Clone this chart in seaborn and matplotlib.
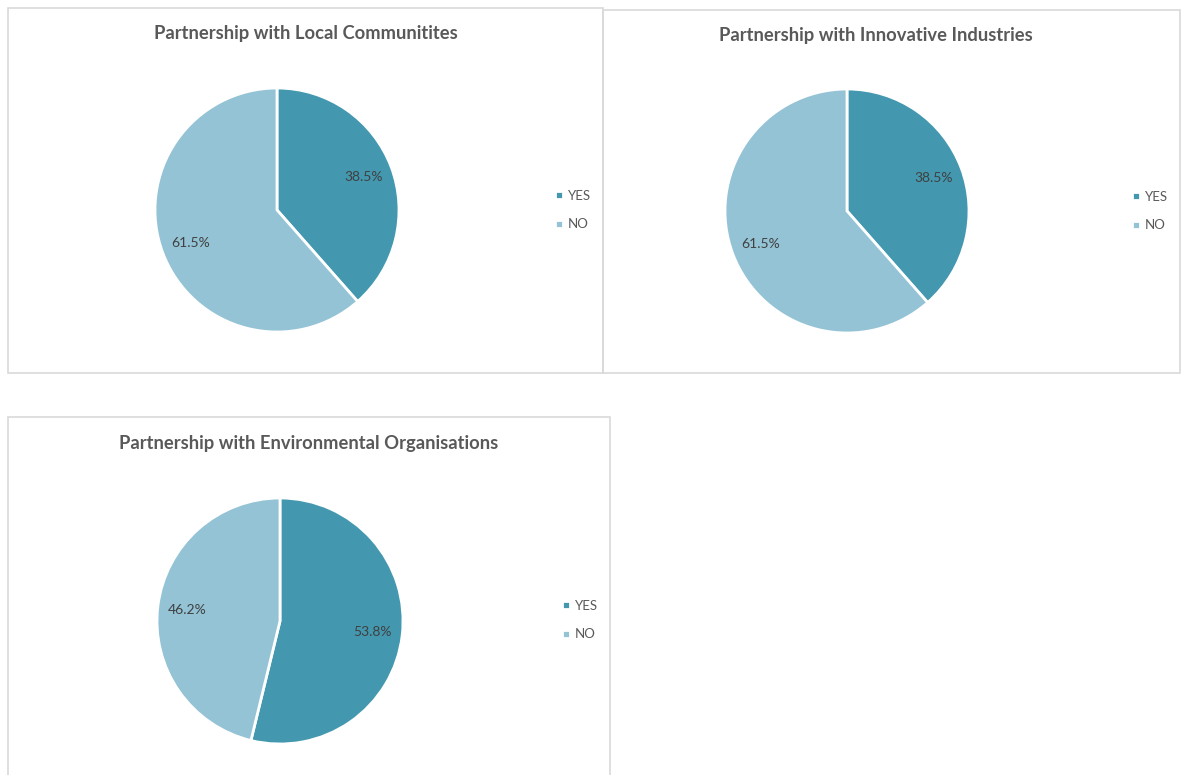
import matplotlib
matplotlib.use("Agg")
import matplotlib.pyplot as plt
from matplotlib.patches import Rectangle
import seaborn as sns

# ---- data ----
titles = ["Partnership with Local Communitites",
          "Partnership with Innovative Industries",
          "Partnership with Environmental Organisations"]
categories = ["YES", "NO"]
yes_pct = [38.5, 38.5, 53.8]
no_pct = [61.5, 61.5, 46.2]

sns.set_theme(style="white")
plt.rcParams['font.family'] = ['Lato', 'DejaVu Sans']

colors = sns.color_palette(["#4398B0", "#93C3D5"])

W, H = 1182, 775
fig = plt.figure(figsize=(W / 100, H / 100), dpi=100)
fig.patch.set_facecolor("white")

def fx(x):
    return x / W

def fy(y):
    return 1 - y / H

# layout in pixels: box(x0,y0,x1,y1), title center, pie center, radius, legend pos
panels = [
    dict(box=(8, 8, 603, 373), title=(306, 33), center=(277, 210), r=122, leg=(550, 210)),
    dict(box=(603, 10, 1180, 373), title=(876, 36), center=(847, 211), r=122, leg=(1127, 211)),
    dict(box=(8, 417, 610, 790), title=(309, 443), center=(280, 621), r=123, leg=(557, 620)),
]

for i, p in enumerate(panels):
    x0, y0, x1, y1 = p["box"]
    fig.patches.append(Rectangle((fx(x0), fy(y1)), fx(x1) - fx(x0), fy(y0) - fy(y1),
                                 transform=fig.transFigure, fill=False,
                                 edgecolor="#D9D9D9", linewidth=1.2, zorder=0))
    fig.text(fx(p["title"][0]), fy(p["title"][1]), titles[i], ha="center", va="center",
             fontsize=13.2, fontweight="bold", color="#595959")
    cx, cy = p["center"]
    r = p["r"]
    ax = fig.add_axes([fx(cx - r), fy(cy + r), 2 * r / W, 2 * r / H])
    vals = [yes_pct[i], no_pct[i]]
    wedges, _, autotexts = ax.pie(
        vals, colors=colors, startangle=90, counterclock=False,
        autopct="%1.1f%%", pctdistance=0.76,
        wedgeprops=dict(edgecolor="white", linewidth=2, clip_on=False),
        textprops=dict(fontsize=10, color="#404040"))
    ax.set_xlim(-1, 1)
    ax.set_ylim(-1, 1)
    ax.set_aspect("equal")
    ax.axis("off")
    lx, ly = p["leg"]
    ax.legend(wedges, categories, loc="center left",
              bbox_to_anchor=(fx(lx), fy(ly)), bbox_transform=fig.transFigure,
              frameon=False, fontsize=9.5, handlelength=0.55, handleheight=0.55,
              handletextpad=0.4, labelspacing=1.25, labelcolor="#595959",
              borderaxespad=0)

fig.savefig("out.png", dpi=100, facecolor="white")
